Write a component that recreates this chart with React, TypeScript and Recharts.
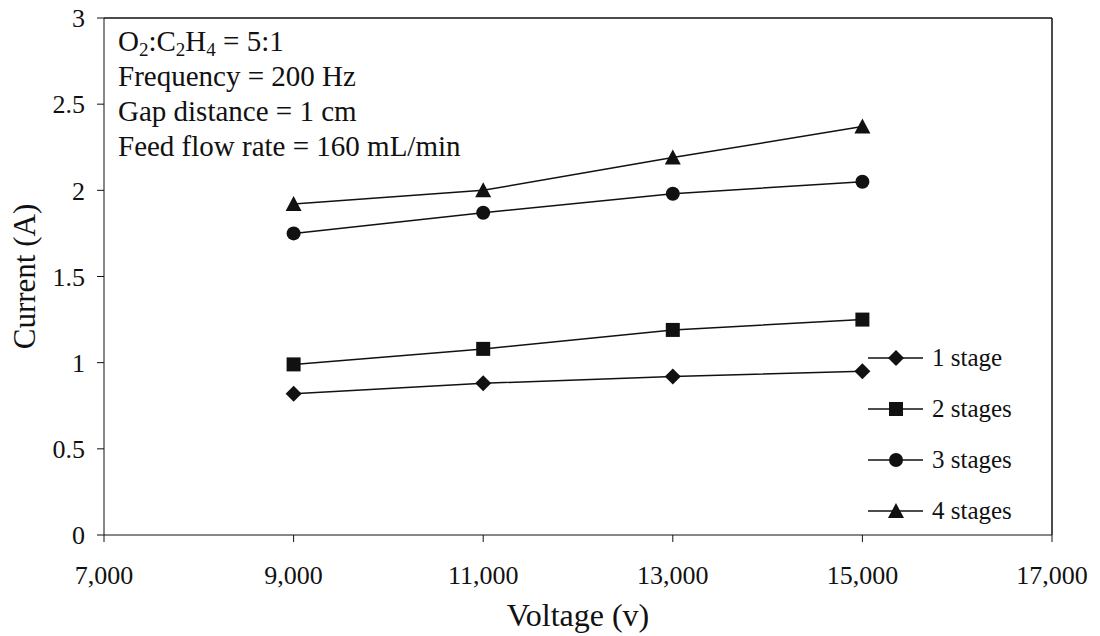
import React from 'react';
import { LineChart, Line, XAxis, YAxis, ReferenceLine } from 'recharts';

const voltages = [9000, 11000, 13000, 15000];
const oneStage = [0.82, 0.88, 0.92, 0.95];
const twoStages = [0.99, 1.08, 1.19, 1.25];
const threeStages = [1.75, 1.87, 1.98, 2.05];
const fourStages = [1.92, 2.0, 2.19, 2.37];

const xTicks = [7000, 9000, 11000, 13000, 15000, 17000];
const yTicks = [0, 0.5, 1, 1.5, 2, 2.5, 3];
const seriesNames = ['1 stage', '2 stages', '3 stages', '4 stages'];

const data = voltages.map((v, i) => ({
  voltage: v,
  s1: oneStage[i],
  s2: twoStages[i],
  s3: threeStages[i],
  s4: fourStages[i],
}));

const INK = '#111';
const FONT = '"Liberation Serif", "Times New Roman", serif';

type Shape = 'diamond' | 'square' | 'circle' | 'triangle';

const Marker = ({ cx, cy, shape }: { cx: number; cy: number; shape: Shape }) => {
  if (cx == null || cy == null) return null;
  switch (shape) {
    case 'diamond':
      return <polygon points={`${cx},${cy - 8} ${cx + 8},${cy} ${cx},${cy + 8} ${cx - 8},${cy}`} fill={INK} />;
    case 'square':
      return <rect x={cx - 7} y={cy - 7} width={14} height={14} fill={INK} />;
    case 'circle':
      return <circle cx={cx} cy={cy} r={7} fill={INK} />;
    default:
      return <polygon points={`${cx},${cy - 8} ${cx + 8},${cy + 7} ${cx - 8},${cy + 7}`} fill={INK} />;
  }
};

const shapes: Shape[] = ['diamond', 'square', 'circle', 'triangle'];
const keys = ['s1', 's2', 's3', 's4'];

// legend sits inside the plot, bottom right
const LegendBox = () => (
  <div style={{ position: 'absolute', left: 866, top: 332, fontFamily: FONT, fontSize: 25, color: INK }}>
    {seriesNames.map((name, i) => (
      <div key={name} style={{ display: 'flex', alignItems: 'center', height: 51 }}>
        <svg width={58} height={20}>
          <line x1={2} y1={10} x2={57} y2={10} stroke={INK} strokeWidth={1.5} />
          <Marker cx={30} cy={10} shape={shapes[i]} />
        </svg>
        <span style={{ marginLeft: 8 }}>{name}</span>
      </div>
    ))}
  </div>
);

const sub = { fontSize: 19, verticalAlign: -5, lineHeight: 0 } as const;

const Notes = () => (
  <div style={{ position: 'absolute', left: 118, top: 24, fontFamily: FONT, fontSize: 29, color: INK }}>
    <div style={{ height: 35, lineHeight: '35px' }}>
      O<sub style={sub}>2</sub>:C<sub style={sub}>2</sub>H<sub style={sub}>4</sub> = 5:1
    </div>
    <div style={{ height: 35, lineHeight: '35px' }}>Frequency = 200 Hz</div>
    <div style={{ height: 35, lineHeight: '35px' }}>Gap distance = 1 cm</div>
    <div style={{ height: 35, lineHeight: '35px' }}>Feed flow rate = 160 mL/min</div>
  </div>
);

const fmt = (v: number) => v.toLocaleString('en-US');

export default function App() {
  return (
    <div style={{ position: 'absolute', left: 0, top: 0, width: 1100, height: 636, background: '#fff' }}>
      <LineChart width={1100} height={636} data={data} margin={{ top: 18, right: 48, bottom: 0, left: 0 }}>
        <XAxis
          dataKey="voltage"
          type="number"
          domain={[7000, 17000]}
          ticks={xTicks}
          tickFormatter={fmt}
          height={101}
          stroke={INK}
          tickSize={7}
          tickMargin={24}
          tick={{ fill: INK, fontFamily: FONT, fontSize: 26 }}
          label={{ value: 'Voltage (v)', position: 'insideBottom', offset: 10, fill: INK, fontFamily: FONT, fontSize: 32 }}
        />
        <YAxis
          type="number"
          domain={[0, 3]}
          ticks={yTicks}
          width={104}
          stroke={INK}
          tickSize={7}
          tickMargin={12}
          tick={{ fill: INK, fontFamily: FONT, fontSize: 26 }}
          label={{ value: 'Current (A)', angle: -90, position: 'insideLeft', offset: 24, fill: INK, fontFamily: FONT, fontSize: 31, style: { textAnchor: 'middle' } }}
        />
        <ReferenceLine y={3} stroke={INK} strokeWidth={1.5} />
        <ReferenceLine x={17000} stroke={INK} strokeWidth={1.5} />
        {keys.map((k, i) => (
          <Line
            key={k}
            dataKey={k}
            name={seriesNames[i]}
            type="linear"
            stroke={INK}
            strokeWidth={1.5}
            dot={(p: any) => <Marker key={`${k}-${p.index}`} cx={p.cx} cy={p.cy} shape={shapes[i]} />}
            activeDot={false}
            isAnimationActive={false}
          />
        ))}
      </LineChart>
      <Notes />
      <LegendBox />
    </div>
  );
}
